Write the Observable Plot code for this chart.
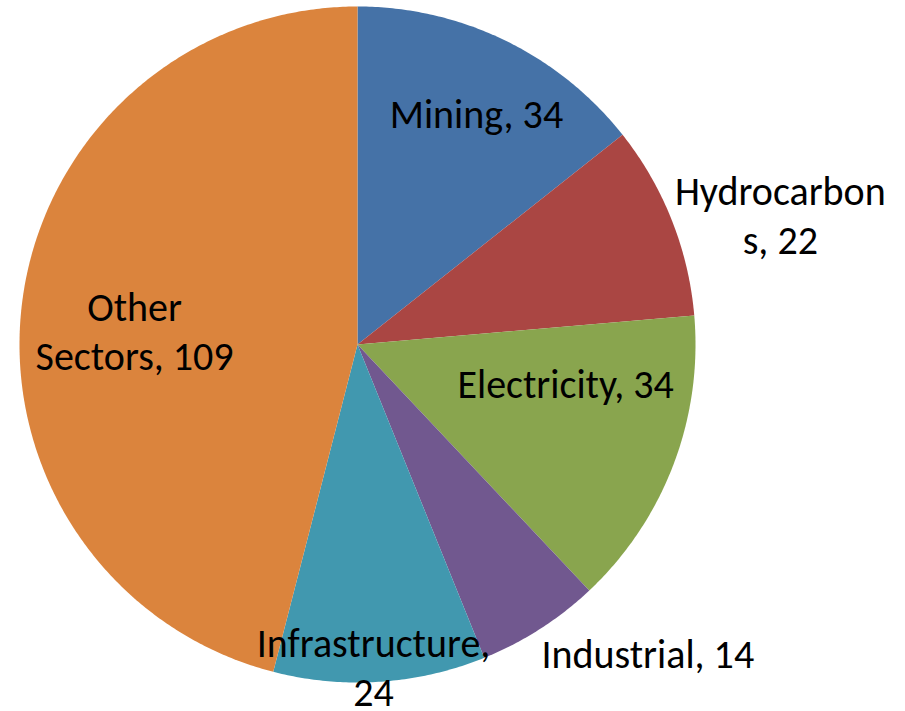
<!DOCTYPE html>
<html><head><meta charset="utf-8">
<script src="https://cdn.jsdelivr.net/npm/d3@7"></script>
<script src="https://cdn.jsdelivr.net/npm/@observablehq/plot@0.6"></script>
<style>body{margin:0;background:#fff}</style>
</head><body><div id="chart"></div>
<script>
const sectors = ["Mining","Hydrocarbons","Electricity","Industrial","Infrastructure","Other Sectors"];
const values = [34, 22, 34, 14, 24, 109];
const labels = ["Mining, 34","Hydrocarbon\ns, 22","Electricity, 34","Industrial, 14","Infrastructure,\n24","Other\nSectors, 109"];
const colors = ["#4572A7","#AA4643","#89A54E","#71588F","#4198AF","#DB843D"];
// label placement (layout): angle in degrees clockwise from 12 o'clock, radius as fraction of pie radius
const labelAngle = [27.7, 73.6, 101.8, 137.2, 177.2, 272.3];
const labelRadius = [0.757, 1.304, 0.629, 1.264, 0.970, 0.660];

const arcs = d3.pie().sort(null).value(d => d)(values);
const slicePts = [];
arcs.forEach((a, i) => {
  slicePts.push({sector: sectors[i], x: 0, y: 0});
  const n = Math.max(2, Math.ceil((a.endAngle - a.startAngle) / (Math.PI / 360)));
  for (let k = 0; k <= n; k++) {
    const t = a.startAngle + (a.endAngle - a.startAngle) * k / n;
    slicePts.push({sector: sectors[i], x: Math.sin(t), y: Math.cos(t)});
  }
  slicePts.push({sector: sectors[i], x: 0, y: 0});
});
const labelData = sectors.map((s, i) => {
  const t = labelAngle[i] * Math.PI / 180;
  return {label: labels[i], x: labelRadius[i] * Math.sin(t), y: labelRadius[i] * Math.cos(t)};
});

const cx = 357, cy = 344, R = 338;
const chart = Plot.plot({
  width: 905, height: 711,
  margin: 0,
  style: {background: "#fff", overflow: "visible"},
  x: {domain: [-1, 1], range: [cx - R, cx + R], axis: null},
  y: {domain: [-1, 1], range: [cy + R, cy - R], axis: null},
  color: {type: "ordinal", domain: sectors, range: colors},
  marks: [
    Plot.line(slicePts, {x: "x", y: "y", z: "sector", fill: "sector", stroke: "none", curve: "linear"}),
    Plot.text(labelData, {x: "x", y: "y", text: "label", fill: "#000", fontSize: 40, lineHeight: 1.23, dy: -6,
      fontFamily: "Calibri, Carlito, Lato, sans-serif", textAnchor: "middle", lineAnchor: "middle"})
  ]
});
document.getElementById("chart").appendChild(chart);
</script>
</body></html>
